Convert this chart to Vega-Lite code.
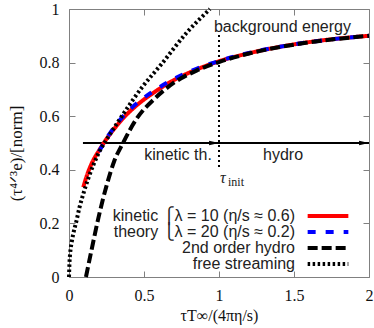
{
  "$schema": "https://vega.github.io/schema/vega-lite/v6.json",
  "width": 300,
  "height": 268,
  "autosize": {"type": "none"},
  "padding": {"left": 69, "top": 9, "right": 5, "bottom": 51},
  "background": "white",
  "config": {
    "view": {"stroke": "#808080", "strokeWidth": 1},
    "font": "Liberation Sans",
    "axis": {
      "labelFont": "Liberation Serif",
      "labelFontSize": 16,
      "labelColor": "#111111",
      "titleFont": "Liberation Serif",
      "titleFontSize": 16,
      "titleFontWeight": "normal",
      "titleColor": "#111111",
      "grid": false,
      "domain": false,
      "tickColor": "#808080",
      "tickSize": -6,
      "labelPadding": 16
    },
    "legend": {
      "orient": "none",
      "legendX": 236,
      "legendY": 199,
      "title": null,
      "symbolType": "M-3.7,0H3.7",
      "symbolSize": 121,
      "symbolOffset": 15,
      "symbolFillColor": "transparent",
      "labelFont": "Liberation Sans",
      "labelFontSize": 16,
      "labelColor": "#222222",
      "labelAlign": "right",
      "labelOffset": -41,
      "labelLimit": 300,
      "rowPadding": 0,
      "padding": 0
    }
  },
  "datasets": {
    "curves": [
      {"series": "kinetic ⎧λ = 10 (η/s ≈ 0.6)", "x": 0.095, "y": 0.335},
      {"series": "kinetic ⎧λ = 10 (η/s ≈ 0.6)", "x": 0.12, "y": 0.38},
      {"series": "kinetic ⎧λ = 10 (η/s ≈ 0.6)", "x": 0.15, "y": 0.422},
      {"series": "kinetic ⎧λ = 10 (η/s ≈ 0.6)", "x": 0.2, "y": 0.472},
      {"series": "kinetic ⎧λ = 10 (η/s ≈ 0.6)", "x": 0.25, "y": 0.515},
      {"series": "kinetic ⎧λ = 10 (η/s ≈ 0.6)", "x": 0.3, "y": 0.552},
      {"series": "kinetic ⎧λ = 10 (η/s ≈ 0.6)", "x": 0.37, "y": 0.598},
      {"series": "kinetic ⎧λ = 10 (η/s ≈ 0.6)", "x": 0.45, "y": 0.64},
      {"series": "kinetic ⎧λ = 10 (η/s ≈ 0.6)", "x": 0.57, "y": 0.69},
      {"series": "kinetic ⎧λ = 10 (η/s ≈ 0.6)", "x": 0.7, "y": 0.735},
      {"series": "kinetic ⎧λ = 10 (η/s ≈ 0.6)", "x": 0.85, "y": 0.774},
      {"series": "kinetic ⎧λ = 10 (η/s ≈ 0.6)", "x": 1.0, "y": 0.805},
      {"series": "kinetic ⎧λ = 10 (η/s ≈ 0.6)", "x": 1.2, "y": 0.835},
      {"series": "kinetic ⎧λ = 10 (η/s ≈ 0.6)", "x": 1.5, "y": 0.868},
      {"series": "kinetic ⎧λ = 10 (η/s ≈ 0.6)", "x": 1.75, "y": 0.887},
      {"series": "kinetic ⎧λ = 10 (η/s ≈ 0.6)", "x": 2.0, "y": 0.9},
      {"series": "theory ⎩λ = 20 (η/s ≈ 0.2)", "x": 0.2, "y": 0.468},
      {"series": "theory ⎩λ = 20 (η/s ≈ 0.2)", "x": 0.25, "y": 0.517},
      {"series": "theory ⎩λ = 20 (η/s ≈ 0.2)", "x": 0.3, "y": 0.558},
      {"series": "theory ⎩λ = 20 (η/s ≈ 0.2)", "x": 0.37, "y": 0.605},
      {"series": "theory ⎩λ = 20 (η/s ≈ 0.2)", "x": 0.45, "y": 0.647},
      {"series": "theory ⎩λ = 20 (η/s ≈ 0.2)", "x": 0.57, "y": 0.696},
      {"series": "theory ⎩λ = 20 (η/s ≈ 0.2)", "x": 0.7, "y": 0.739},
      {"series": "theory ⎩λ = 20 (η/s ≈ 0.2)", "x": 0.85, "y": 0.777},
      {"series": "theory ⎩λ = 20 (η/s ≈ 0.2)", "x": 1.0, "y": 0.806},
      {"series": "theory ⎩λ = 20 (η/s ≈ 0.2)", "x": 1.2, "y": 0.836},
      {"series": "theory ⎩λ = 20 (η/s ≈ 0.2)", "x": 1.5, "y": 0.868},
      {"series": "theory ⎩λ = 20 (η/s ≈ 0.2)", "x": 1.75, "y": 0.887},
      {"series": "theory ⎩λ = 20 (η/s ≈ 0.2)", "x": 2.0, "y": 0.9},
      {"series": "2nd order hydro", "x": 0.113, "y": 0.0},
      {"series": "2nd order hydro", "x": 0.15, "y": 0.1},
      {"series": "2nd order hydro", "x": 0.2, "y": 0.23},
      {"series": "2nd order hydro", "x": 0.25, "y": 0.34},
      {"series": "2nd order hydro", "x": 0.3, "y": 0.43},
      {"series": "2nd order hydro", "x": 0.36, "y": 0.5},
      {"series": "2nd order hydro", "x": 0.45, "y": 0.59},
      {"series": "2nd order hydro", "x": 0.57, "y": 0.665},
      {"series": "2nd order hydro", "x": 0.7, "y": 0.725},
      {"series": "2nd order hydro", "x": 0.85, "y": 0.77},
      {"series": "2nd order hydro", "x": 1.0, "y": 0.802},
      {"series": "2nd order hydro", "x": 1.2, "y": 0.834},
      {"series": "2nd order hydro", "x": 1.5, "y": 0.867},
      {"series": "2nd order hydro", "x": 1.75, "y": 0.886},
      {"series": "2nd order hydro", "x": 2.0, "y": 0.9},
      {"series": "free streaming", "x": 0.0, "y": 0.0},
      {"series": "free streaming", "x": 0.003, "y": 0.05},
      {"series": "free streaming", "x": 0.008, "y": 0.09},
      {"series": "free streaming", "x": 0.018, "y": 0.13},
      {"series": "free streaming", "x": 0.03, "y": 0.165},
      {"series": "free streaming", "x": 0.05, "y": 0.21},
      {"series": "free streaming", "x": 0.07, "y": 0.26},
      {"series": "free streaming", "x": 0.09, "y": 0.3},
      {"series": "free streaming", "x": 0.13, "y": 0.37},
      {"series": "free streaming", "x": 0.2, "y": 0.465},
      {"series": "free streaming", "x": 0.27, "y": 0.53},
      {"series": "free streaming", "x": 0.34, "y": 0.59},
      {"series": "free streaming", "x": 0.49, "y": 0.71},
      {"series": "free streaming", "x": 0.61, "y": 0.79},
      {"series": "free streaming", "x": 0.79, "y": 0.915},
      {"series": "free streaming", "x": 0.94, "y": 1.0}
    ],
    "notes": [
      {"note": "background energy", "x": 1.423, "y": 0.933},
      {"note": "kinetic th.", "x": 0.727, "y": 0.455},
      {"note": "hydro", "x": 1.427, "y": 0.455}
    ],
    "heads": [
      {"x": 0.967, "y": 0.5},
      {"x": 1.967, "y": 0.5}
    ],
    "hline": [{"x": 0.093, "x2": 2.0, "y": 0.5}],
    "vline": [{"x": 1.0, "y": 0.41, "y2": 0.91}],
    "tau": [{"x": 1.0, "y": 0.37}]
  },
  "resolve": {"axis": {"x": "independent", "y": "independent"}},
  "layer": [
    {
      "data": {"name": "vline"},
      "mark": {"type": "rule", "color": "black", "strokeWidth": 2, "strokeDash": [2, 3]},
      "encoding": {
        "x": {"field": "x", "type": "quantitative", "scale": {"domain": [0, 2], "nice": false}, "axis": {"orient": "top", "labels": false, "title": null, "values": [0, 0.5, 1, 1.5, 2]}},
        "y": {"field": "y", "type": "quantitative", "scale": {"domain": [0, 1], "nice": false}, "axis": {"orient": "right", "labels": false, "title": null, "values": [0, 0.2, 0.4, 0.6, 0.8, 1]}},
        "y2": {"field": "y2"}
      }
    },
    {
      "data": {"name": "hline"},
      "mark": {"type": "rule", "color": "black", "strokeWidth": 2},
      "encoding": {
        "x": {"field": "x", "type": "quantitative", "axis": null},
        "x2": {"field": "x2"},
        "y": {"field": "y", "type": "quantitative", "axis": null}
      }
    },
    {
      "data": {"name": "heads"},
      "mark": {"type": "point", "shape": "M1,0L-1,-0.45L-1,0.45Z", "size": 100, "filled": true, "color": "black", "opacity": 1},
      "encoding": {
        "x": {"field": "x", "type": "quantitative", "axis": null},
        "y": {"field": "y", "type": "quantitative", "axis": null}
      }
    },
    {
      "data": {"name": "curves"},
      "mark": {"type": "line", "interpolate": "monotone", "strokeCap": "butt"},
      "encoding": {
        "x": {"field": "x", "type": "quantitative", "axis": {"orient": "bottom", "title": "τT∞/(4πη/s)", "values": [0, 0.5, 1, 1.5, 2], "format": "~g", "labelFlush": false}},
        "y": {"field": "y", "type": "quantitative", "axis": {"orient": "left", "title": "(τ⁴ᐟ³e)/[norm]", "titleFontSize": 17, "titleY": 144, "values": [0, 0.2, 0.4, 0.6, 0.8, 1], "format": "~g", "titlePadding": 14}},
        "color": {
          "field": "series", "type": "nominal",
          "scale": {"domain": ["kinetic ⎧λ = 10 (η/s ≈ 0.6)", "theory ⎩λ = 20 (η/s ≈ 0.2)", "2nd order hydro", "free streaming"], "range": ["#ff0000", "#0000ff", "#000000", "#000000"]},
          "legend": {"title": null}
        },
        "strokeDash": {
          "field": "series", "type": "nominal",
          "scale": {"domain": ["kinetic ⎧λ = 10 (η/s ≈ 0.6)", "theory ⎩λ = 20 (η/s ≈ 0.2)", "2nd order hydro", "free streaming"], "range": [[1, 0], [8, 10], [10, 4], [2.5, 2.5]]},
          "legend": {"title": null}
        },
        "strokeWidth": {
          "field": "series", "type": "nominal",
          "scale": {"domain": ["kinetic ⎧λ = 10 (η/s ≈ 0.6)", "theory ⎩λ = 20 (η/s ≈ 0.2)", "2nd order hydro", "free streaming"], "range": [4, 4, 2.5, 2.5]},
          "legend": {"title": null}
        }
      }
    },
    {
      "data": {"name": "notes"},
      "mark": {"type": "text", "font": "Liberation Sans", "fontSize": 16, "color": "#222222", "align": "center", "baseline": "middle"},
      "encoding": {
        "x": {"field": "x", "type": "quantitative", "axis": null},
        "y": {"field": "y", "type": "quantitative", "axis": null},
        "text": {"field": "note"}
      }
    },
    {
      "data": {"name": "tau"},
      "mark": {"type": "text", "font": "Liberation Serif", "fontStyle": "italic", "fontSize": 16, "color": "#222222", "align": "left", "baseline": "middle", "dx": 1},
      "encoding": {
        "x": {"field": "x", "type": "quantitative", "axis": null},
        "y": {"field": "y", "type": "quantitative", "axis": null},
        "text": {"value": "τ"}
      }
    },
    {
      "data": {"name": "tau"},
      "mark": {"type": "text", "font": "Liberation Serif", "fontSize": 12, "color": "#222222", "align": "left", "baseline": "middle", "dx": 9, "dy": 4},
      "encoding": {
        "x": {"field": "x", "type": "quantitative", "axis": null},
        "y": {"field": "y", "type": "quantitative", "axis": null},
        "text": {"value": "init"}
      }
    }
  ]
}
